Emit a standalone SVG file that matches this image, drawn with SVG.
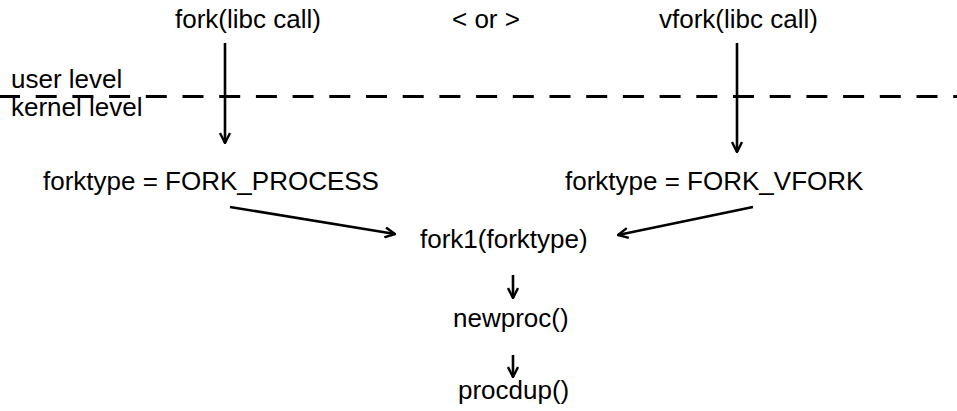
<svg xmlns="http://www.w3.org/2000/svg" width="957" height="411" viewBox="0 0 957 411">
  <style>
    text { font-family: "Liberation Sans", Arial, sans-serif; font-size: 26px; fill: #000; }
    .conn { stroke: #000; stroke-width: 2.6; fill: none; }
    .divider { stroke: #000; stroke-width: 3; stroke-dasharray: 21 15.7; fill: none; }
  </style>
  <defs>
    <marker id="arrow" viewBox="0 0 12 12" refX="11" refY="6" markerWidth="12" markerHeight="12" markerUnits="userSpaceOnUse" orient="auto">
      <path d="M1,1 L11,6 L1,11" fill="none" stroke="#000" stroke-width="2.4" stroke-linejoin="miter"/>
    </marker>
  </defs>

  <!-- user / kernel boundary -->
  <g id="boundary">
    <line class="divider" x1="-1" y1="96.5" x2="957" y2="96.5"/>
    <text x="11" y="88">user level</text>
    <text x="11" y="116">kernel level</text>
  </g>

  <g id="fork-call"><text x="175" y="28">fork(libc call)</text></g>
  <g id="or-label"><text x="452" y="28">&lt; or &gt;</text></g>
  <g id="vfork-call"><text x="659" y="28">vfork(libc call)</text></g>
  <g id="forktype-process"><text x="43" y="190">forktype = FORK_PROCESS</text></g>
  <g id="forktype-vfork"><text x="565" y="190">forktype = FORK_VFORK</text></g>
  <g id="fork1"><text x="420" y="248">fork1(forktype)</text></g>
  <g id="newproc"><text x="453" y="327">newproc()</text></g>
  <g id="procdup"><text x="458" y="399">procdup()</text></g>

  <g id="connectors">
    <line class="conn" x1="225" y1="43" x2="225" y2="143" marker-end="url(#arrow)"/>
    <line class="conn" x1="737" y1="43" x2="737" y2="152" marker-end="url(#arrow)"/>
    <line class="conn" x1="230" y1="207" x2="395" y2="234" marker-end="url(#arrow)"/>
    <line class="conn" x1="753" y1="207" x2="618" y2="235" marker-end="url(#arrow)"/>
    <line class="conn" x1="513" y1="275" x2="513" y2="298" marker-end="url(#arrow)"/>
    <line class="conn" x1="513" y1="355" x2="513" y2="377" marker-end="url(#arrow)"/>
  </g>
</svg>
